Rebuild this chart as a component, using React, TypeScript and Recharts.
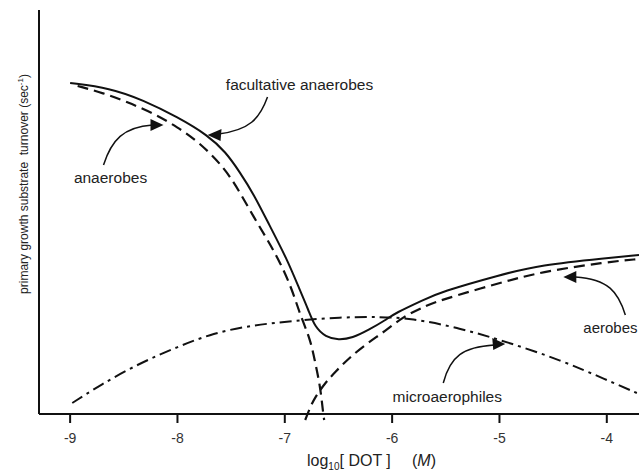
import { LineChart, Line, XAxis, YAxis, ReferenceLine, ReferenceDot, Customized } from 'recharts';

// facultative anaerobes (solid)
const facX = [-9.0, -8.63, -8.32, -8.0, -7.72, -7.55, -7.42, -7.29, -7.14, -6.98, -6.86, -6.78, -6.72, -6.62, -6.5, -6.37, -6.22, -6.06, -5.97, -5.71, -5.55, -5.0, -4.62, -4.0, -3.7];
const facY = [331, 326, 314, 297, 279, 262, 242, 220, 188, 155, 124, 104, 87, 77, 74, 76, 84, 94, 101, 114, 122, 139, 149, 156, 159];

// anaerobes (dashed)
const anaX = [-8.93, -8.69, -8.47, -8.23, -8.0, -7.79, -7.56, -7.42, -7.29, -7.16, -7.04, -6.93, -6.86, -6.76, -6.72, -6.67, -6.642, -6.633];
const anaY = [328, 321, 312, 301, 287, 271, 246, 222, 197, 174, 151, 124, 100, 74, 53, 28, 0, -6];

// aerobes (dashed)
const aerX = [-6.81, -6.763, -6.717, -6.624, -6.531, -6.401, -6.242, -6.064, -5.9, -5.71, -5.55, -5.0, -4.62, -4.0, -3.7];
const aerY = [-6, 7, 17, 31, 42, 56, 70, 83, 97, 107, 114, 131, 142, 152, 155];

// microaerophiles (dash-dot)
const micX = [-8.98, -8.72, -8.35, -8.0, -7.67, -7.29, -6.92, -6.48, -6.11, -5.83, -5.37, -4.93, -4.43, -4.0, -3.72];
const micY = [11, 29, 51, 67, 81, 89, 93, 97, 97, 96, 86, 72, 54, 34, 21];

const xTicks = [-9, -8, -7, -6, -5, -4];

const toPoints = (xs: number[], ys: number[]) => xs.map((x, i) => ({ x, y: ys[i] }));

const notes = [
  { text: 'facultative anaerobes', x: -7.72, y: 279, path: 'M60,-38 C52,-16 42,-5 11,-1', head: '0,0 14,-6 13,6', tx: 92, ty: -45, anchor: 'middle', size: 15.5 },
  { text: 'anaerobes', x: -8.13, y: 289, path: 'M-60,40 C-52,15 -40,2 -11,0', head: '0,0 -13,-6 -13,6', tx: -53, ty: 58, anchor: 'middle', size: 15.5 },
  { text: 'aerobes', x: -4.405, y: 137, path: 'M62,38 C55,15 45,2 12,0', head: '0,0 13,-6 13,6', tx: 20, ty: 56, anchor: 'start', size: 15 },
  { text: 'microaerophiles', x: -4.946, y: 70, path: 'M-62,39 C-55,12 -42,3 -11,1', head: '0,0 -13,-6 -12,6', tx: -58, ty: 58, anchor: 'middle', size: 15.5 },
];

const FONT = '"Liberation Sans", Arial, Helvetica, sans-serif';

const XTick = (props: any) => {
  const { x, y, payload } = props;
  return (
    <g>
      <line x1={x} x2={x} y1={y - 6} y2={y + 3} stroke="#111" strokeWidth={2} />
      <text x={x} y={y + 23} textAnchor="middle" fontSize={14} fill="#333" fontFamily={FONT}>
        {payload.value}
      </text>
    </g>
  );
};

const Labels = () => (
  <g fontFamily={FONT} fill="#222">
    <text x={307} y={466} fontSize={16} style={{ whiteSpace: 'pre' }}>
      log<tspan fontSize={10} dy={4}>10</tspan>
      <tspan dy={-4}>[ DOT ]</tspan>
      <tspan x={412}>(</tspan>
      <tspan fontStyle="italic">M</tspan>
      <tspan>)</tspan>
    </text>
    <text transform="translate(28,184) rotate(-90)" textAnchor="middle" fontSize={12} style={{ whiteSpace: 'pre' }}>
      primary growth substrate  turnover (sec<tspan fontSize={8} dy={-5}>-1</tspan>
      <tspan dy={5}>)</tspan>
    </text>
  </g>
);

export default function App() {
  return (
    <div style={{ position: 'absolute', left: 0, top: 0, background: '#fff' }}>
      <LineChart width={639} height={472} margin={{ top: 10, right: 0, bottom: 0, left: 39 }}>
        <XAxis
          type="number"
          dataKey="x"
          domain={[-9.29, -3.7]}
          ticks={xTicks}
          interval={0}
          axisLine={false}
          tickLine={false}
          tickSize={0}
          tickMargin={0}
          height={52}
          tick={<XTick />}
        />
        <YAxis hide type="number" dataKey="y" domain={[-6, 404]} />
        <ReferenceLine y={0} stroke="#111" strokeWidth={2} ifOverflow="visible" />
        <ReferenceLine
          segment={[{ x: -9.29, y: 0 }, { x: -9.29, y: 404 }]}
          stroke="#111"
          strokeWidth={2}
          ifOverflow="visible"
        />
        <Line data={toPoints(micX, micY)} dataKey="y" type="basis" stroke="#111" strokeWidth={2} strokeDasharray="12 5 3 5" dot={false} isAnimationActive={false} />
        <Line data={toPoints(anaX, anaY)} dataKey="y" type="basis" stroke="#111" strokeWidth={2.2} strokeDasharray="11 6" dot={false} isAnimationActive={false} />
        <Line data={toPoints(aerX, aerY)} dataKey="y" type="basis" stroke="#111" strokeWidth={2.2} strokeDasharray="11 6" dot={false} isAnimationActive={false} />
        <Line data={toPoints(facX, facY)} dataKey="y" type="basis" stroke="#111" strokeWidth={2} dot={false} isAnimationActive={false} />
        {notes.map((n) => (
          <ReferenceDot
            key={n.text}
            x={n.x}
            y={n.y}
            r={0}
            ifOverflow="visible"
            shape={(p: any) => (
              <g transform={`translate(${p.cx},${p.cy})`}>
                <path d={n.path} fill="none" stroke="#111" strokeWidth={1.5} />
                <polygon points={n.head} fill="#111" />
                <text x={n.tx} y={n.ty} textAnchor={n.anchor} fontSize={n.size} fill="#222" fontFamily={FONT}>
                  {n.text}
                </text>
              </g>
            )}
          />
        ))}
        <Customized component={Labels} />
      </LineChart>
    </div>
  );
}
